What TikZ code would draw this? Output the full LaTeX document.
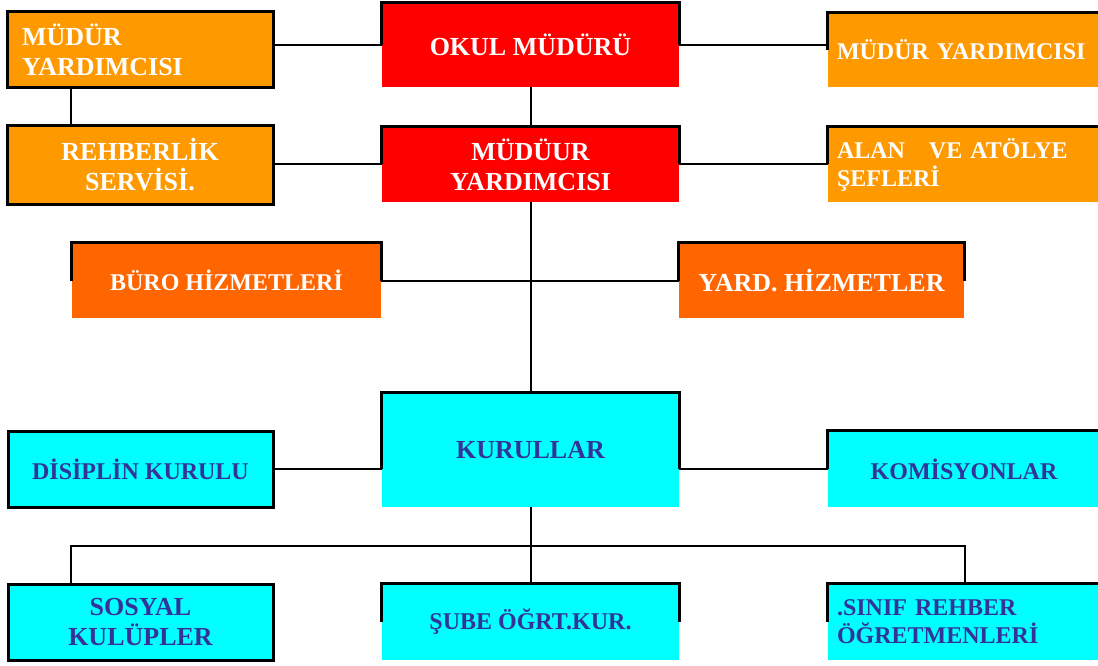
\documentclass[tikz,border=0pt]{standalone}
\usepackage{fontspec}
\setmainfont{Liberation Serif}
\usetikzlibrary{calc}

\definecolor{lightorange}{RGB}{255,153,0}
\definecolor{darkorange}{RGB}{255,102,0}
\definecolor{boxred}{RGB}{255,0,0}
\definecolor{boxcyan}{RGB}{0,255,255}
\definecolor{navytext}{RGB}{51,51,153}

\newcommand*{\bigtext}{\fontsize{26}{30}\selectfont\bfseries}
\newcommand*{\smalltext}{\fontsize{24}{28}\selectfont\bfseries}
% black frame on the top and the upper half of the sides
\newcommand*{\topframe}[1]{\draw[frame] (#1.west) |- (#1.north) -| (#1.east);}

\begin{document}
\begin{tikzpicture}
[
	x=1pt, y=-1pt,
	box/.style={rectangle,inner sep=0pt,anchor=center,align=center},
	big/.style={font=\bigtext},
	small/.style={font=\smalltext},
	fullframe/.style={draw=black,line width=3pt},
	frame/.style={draw=black,line width=3pt},
	link/.style={draw=black,line width=2pt}
]

	\clip (0,0) rectangle (1098,666);
	\fill[white] (0,0) rectangle (1098,666);

	\coordinate (busL) at (71,546);
	\coordinate (busR) at (965,546);

	% top row
	\node[box,big,fill=lightorange,fullframe,minimum width=266pt,minimum height=76pt,
		text=white,align=left,text width=236pt] at (140,50) (mya)
		{MÜDÜR\\YARDIMCISI};
	\node[box,big,fill=boxred,minimum width=297pt,minimum height=84pt,text=white]
		at (530.5,45) (okul) {OKUL MÜDÜRÜ};
	\node[box,small,fill=lightorange,minimum width=300pt,minimum height=74pt,text=white,
		align=left,text width=282pt] at (978,50) (myr) {MÜDÜR YARDIMCISI};

	% second row
	\node[box,big,fill=lightorange,fullframe,minimum width=266pt,minimum height=78pt,
		text=white] at (140,165) (rehber) {REHBERLİK\\SERVİSİ.};
	\node[box,big,fill=boxred,minimum width=297pt,minimum height=75pt,text=white]
		at (530.5,164.5) (mdy) {MÜDÜUR\\YARDIMCISI};
	\node[box,small,fill=lightorange,minimum width=300pt,minimum height=75pt,text=white,
		align=left,text width=282pt] at (978,164.5) (alan)
		{ALAN\ \ \ VE ATÖLYE\\ŞEFLERİ};

	% services
	\node[box,small,fill=darkorange,minimum width=309pt,minimum height=75pt,text=white]
		at (226.5,280.5) (buro) {BÜRO HİZMETLERİ};
	\node[box,big,fill=darkorange,minimum width=285pt,minimum height=75pt,text=white]
		at (821.5,280.5) (yard) {YARD. HİZMETLER};

	% boards
	\node[box,small,fill=boxcyan,fullframe,minimum width=265pt,minimum height=76pt,
		text=navytext] at (140.5,469) (disiplin) {DİSİPLİN KURULU};
	\node[box,big,fill=boxcyan,minimum width=297pt,minimum height=114pt,text=navytext]
		at (530.5,450) (kurullar) {KURULLAR};
	\node[box,small,fill=boxcyan,minimum width=300pt,minimum height=76pt,text=navytext]
		at (978,469) (komisyon) {\hspace*{-28pt}KOMİSYONLAR};

	% bottom row
	\node[box,big,fill=boxcyan,fullframe,minimum width=265pt,minimum height=76pt,
		text=navytext] at (140.5,622) (sosyal) {SOSYAL\\KULÜPLER};
	\node[box,small,fill=boxcyan,minimum width=297pt,minimum height=76pt,text=navytext]
		at (530.5,622) (sube) {\raisebox{-2pt}{ŞUBE ÖĞRT.KUR.}};
	\node[box,small,fill=boxcyan,minimum width=300pt,minimum height=76pt,text=navytext,
		align=left,text width=282pt] at (978,622) (sinif)
		{.SINIF REHBER\\ÖĞRETMENLERİ};

	% frames
	\topframe{okul}
	\topframe{myr}
	\topframe{mdy}
	\topframe{alan}
	\topframe{buro}
	\topframe{yard}
	\topframe{komisyon}
	\topframe{sube}
	\topframe{sinif}
	\draw[frame] (kurullar.west |- disiplin.east) |- (kurullar.north)
		-| (kurullar.east |- komisyon.west);

	% connectors
	\draw[link] (mya.east |- okul.west) -- (okul.west);
	\draw[link] (okul.east) -- (okul.east -| myr.west);
	\draw[link] (mya.south -| busL) -- (rehber.north -| busL);
	\draw[link] (okul.south) -- (mdy.north);
	\draw[link] (rehber.east |- mdy.west) -- (mdy.west);
	\draw[link] (mdy.east) -- (mdy.east -| alan.west);
	\draw[link] (mdy.south) -- (kurullar.north);
	\draw[link] (buro.east) -- (yard.west);
	\draw[link] (disiplin.east) -- (disiplin.east -| kurullar.west);
	\draw[link] (kurullar.east |- komisyon.west) -- (komisyon.west);
	\draw[link] (kurullar.south) -- (sube.north);
	\draw[link] (sosyal.north -| busL) |- (busR) -- (sinif.north -| busR);

\end{tikzpicture}
\end{document}
